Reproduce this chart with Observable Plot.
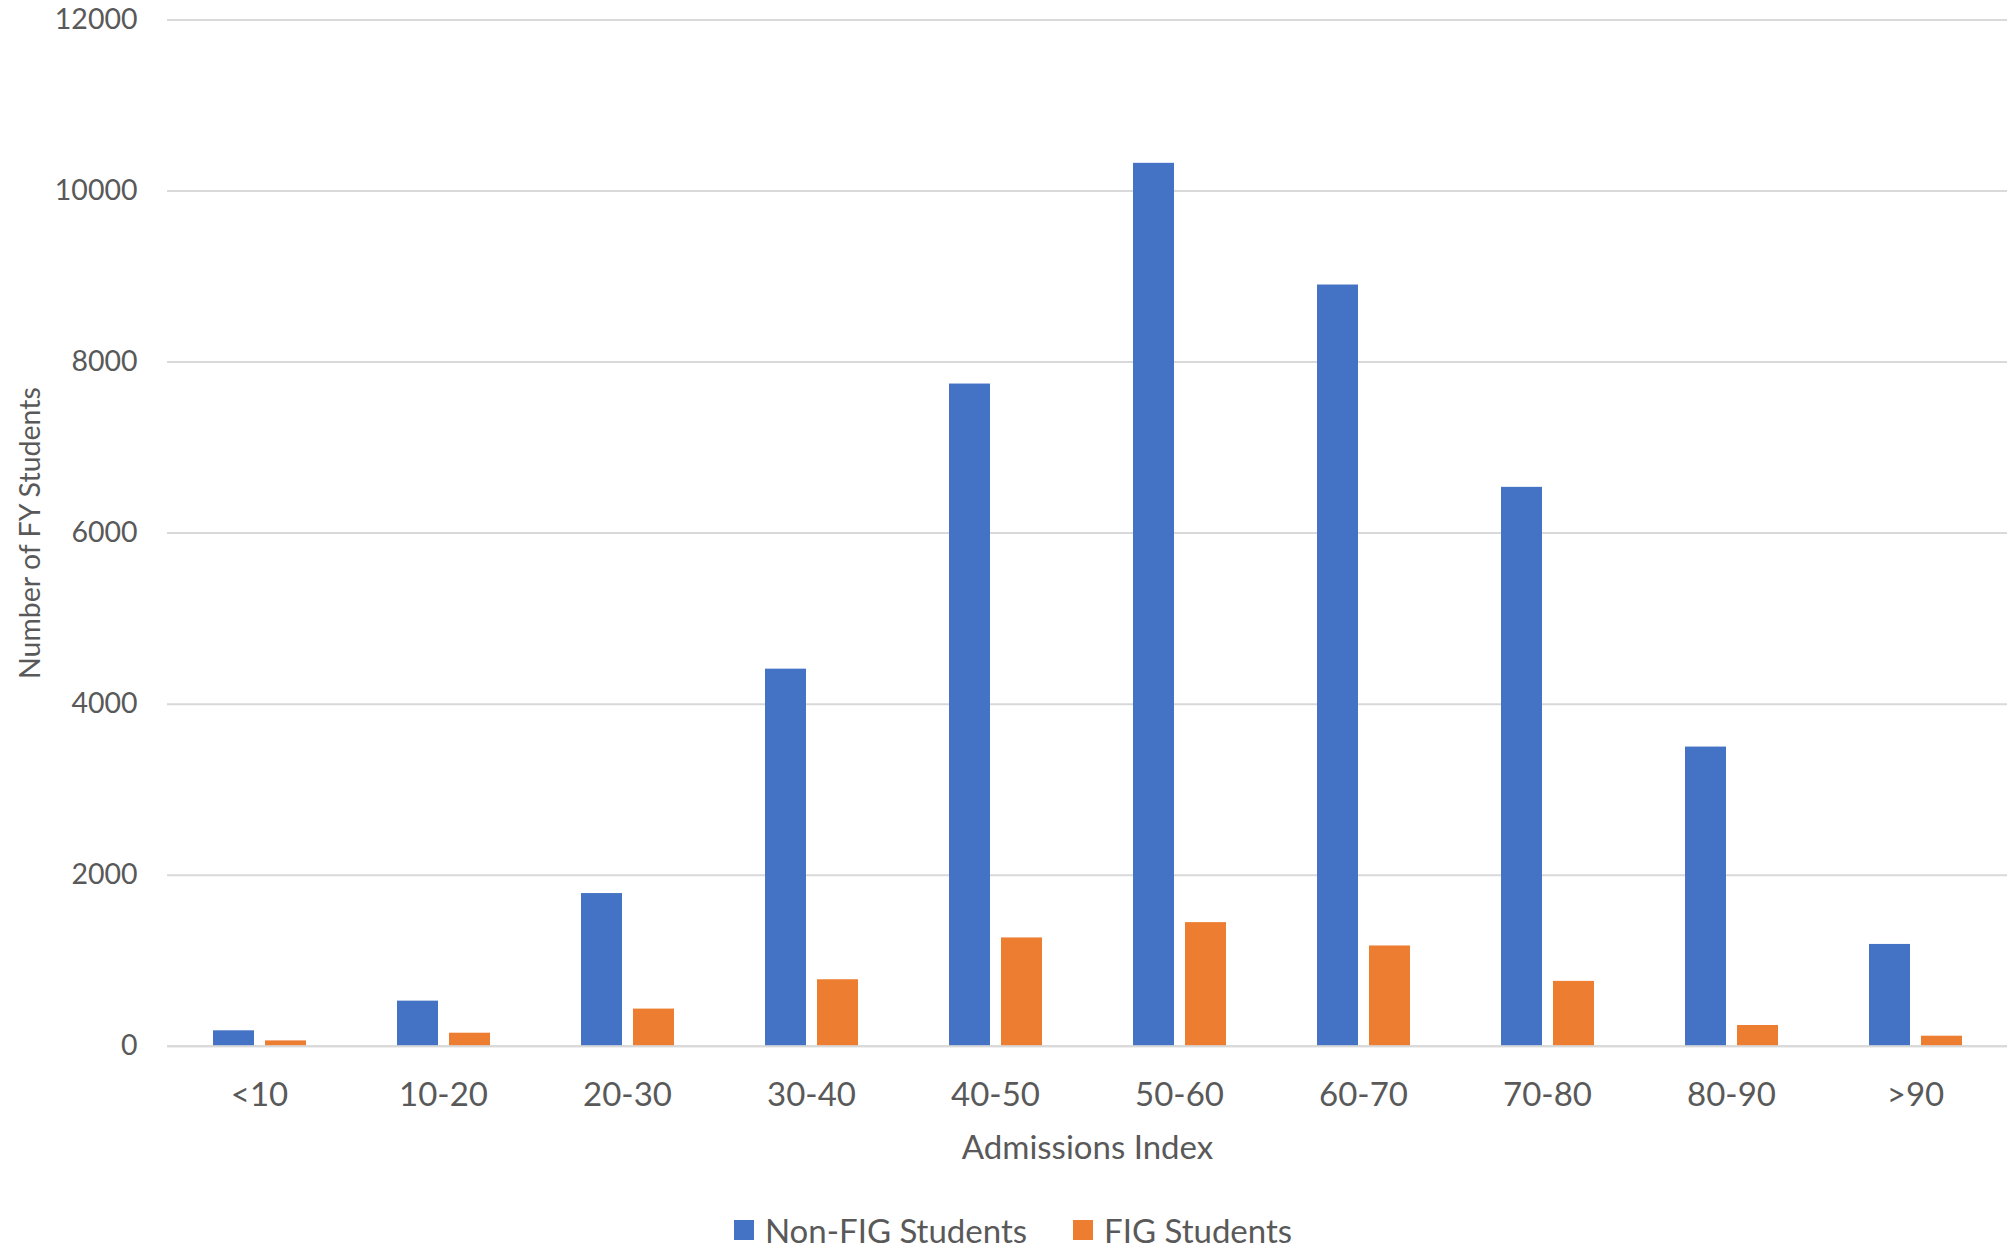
<!DOCTYPE html>
<html>
<head>
<meta charset="utf-8">
<script src="https://cdn.jsdelivr.net/npm/d3@7"></script>
<script src="https://cdn.jsdelivr.net/npm/@observablehq/plot@0.6"></script>
<style>
  html, body { margin: 0; padding: 0; background: #ffffff; }
  body { width: 2007px; height: 1249px; overflow: hidden; font-family: Lato, "Open Sans", sans-serif; }
  #legend {
    display: flex; justify-content: center; align-items: center;
    height: 69px; box-sizing: border-box; padding: 31px 0 0 19px;
    gap: 46px; font-size: 33px; color: #595959; line-height: 36px;
  }
  #legend .item { display: flex; align-items: center; gap: 11px; }
  #legend .swatch { width: 20px; height: 20px; display: inline-block; }
</style>
</head>
<body>
<div id="chart"></div>
<div id="legend"></div>
<script>
// Admissions index bands
const categories = ["<10", "10-20", "20-30", "30-40", "40-50", "50-60", "60-70", "70-80", "80-90", ">90"];
// Series names and colours
const series = ["Non-FIG Students", "FIG Students"];
const seriesColors = ["#4472C4", "#ED7D31"];
// First-year student counts per band
const nonFigCounts = [180, 527, 1785, 4409, 7743, 10324, 8901, 6535, 3498, 1190];
const figCounts = [62, 152, 434, 777, 1266, 1445, 1172, 758, 242, 117];
// Value axis ticks
const yTicks = [0, 2000, 4000, 6000, 8000, 10000, 12000];

const rows = categories.flatMap((c, i) => [
  {category: c, series: series[0], count: nonFigCounts[i]},
  {category: c, series: series[1], count: figCounts[i]}
]);

const textColor = "#595959";
const gridColor = "#d9d9d9";

const chart = Plot.plot({
  width: 2007,
  height: 1180,
  marginTop: 19.5,
  marginBottom: 134.3,
  marginLeft: 167,
  marginRight: 0,
  style: {fontFamily: "Lato, 'Open Sans', sans-serif", fontSize: "28px", color: textColor, background: "#ffffff", overflow: "visible"},
  fx: {domain: categories, padding: 0},
  x: {domain: series, paddingInner: 0.22, paddingOuter: 0.86, axis: null},
  y: {domain: [0, 12000]},
  color: {domain: series, range: seriesColors},
  marks: [
    Plot.gridY(yTicks, {stroke: gridColor, strokeOpacity: 1, strokeWidth: 2}),
    Plot.axisY(yTicks, {
      tickSize: 0, tickPadding: 30, tickFormat: d3.format("d"), fontSize: 28.5,
      label: "Number of FY Students", labelAnchor: "center", labelOffset: 148, labelArrow: "none",
      fill: textColor
    }),
    Plot.axisFx({
      anchor: "bottom", tickSize: 0, tickPadding: 36, fontSize: 33,
      label: "Admissions Index", labelAnchor: "center", labelOffset: 113, labelArrow: "none",
      fill: textColor
    }),
    Plot.barY(rows, {fx: "category", x: "series", y: "count", fill: "series"}),
    Plot.ruleY([0], {stroke: gridColor, strokeWidth: 2})
  ]
});
document.getElementById("chart").appendChild(chart);

// Legend below the plot
const legend = d3.select("#legend");
series.forEach((s, i) => {
  const item = legend.append("div").attr("class", "item");
  item.append("span").attr("class", "swatch").style("background", seriesColors[i]);
  item.append("span").text(s);
});
</script>
</body>
</html>
